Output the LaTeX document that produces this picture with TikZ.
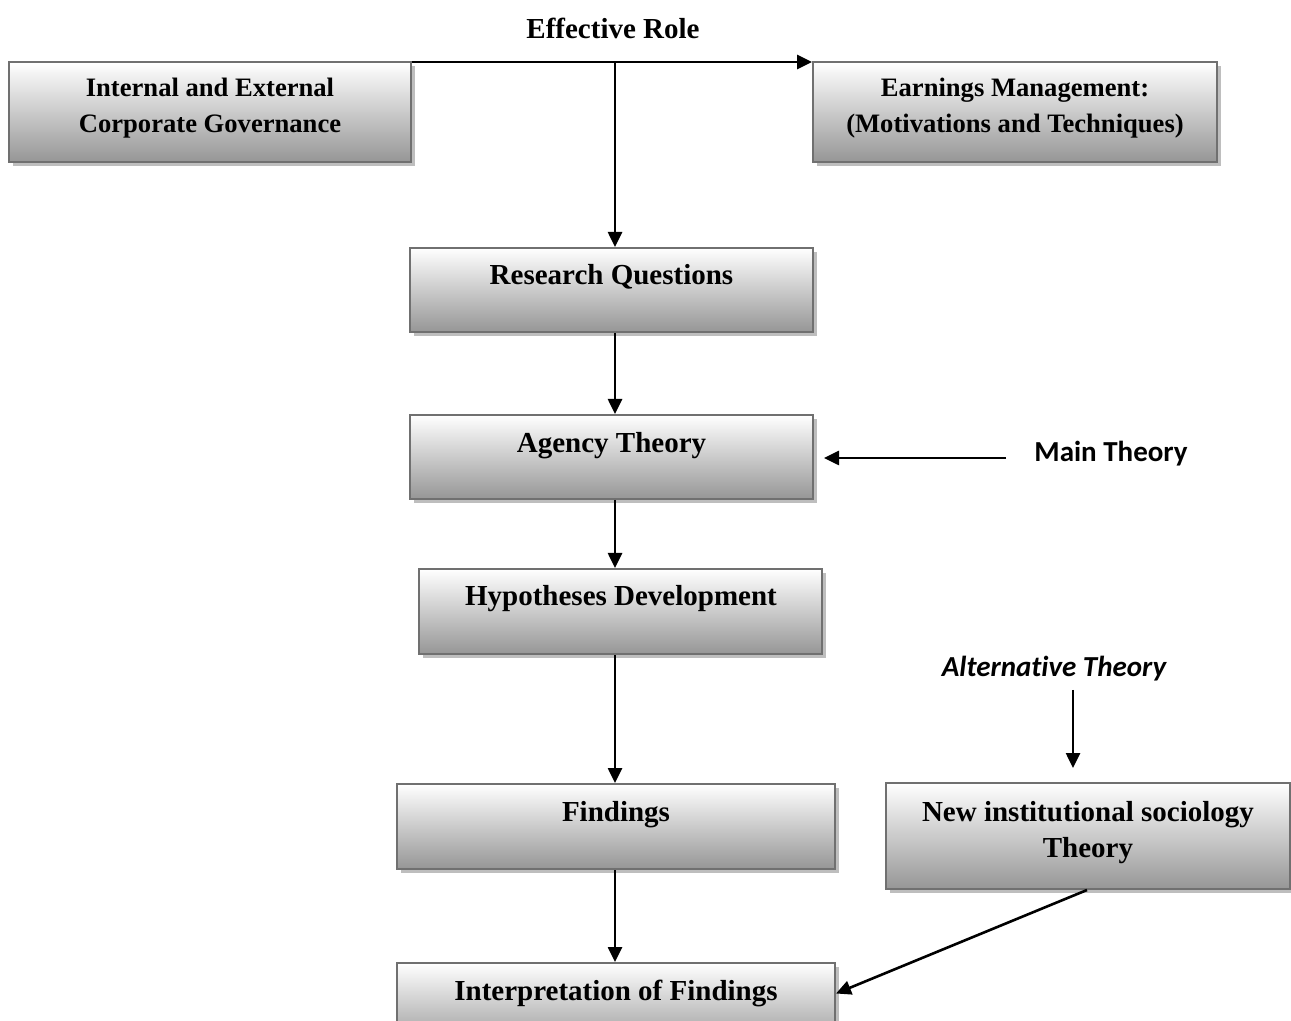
\documentclass[tikz,border=0pt]{standalone}
\usepackage{fontspec}
\setmainfont{Liberation Serif}
\newfontfamily\calib[Ligatures=NoCommon]{Carlito}
\usetikzlibrary{arrows.meta,shadows}
\begin{document}
\begin{tikzpicture}[x=0.5pt,y=-0.5pt,
  boxnode/.style={draw={rgb,255:red,112;green,112;blue,112}, line width=1pt,
    top color=white, bottom color={rgb,255:red,150;green,150;blue,150},
    drop shadow={shadow xshift=2pt, shadow yshift=-2pt, fill={rgb,255:red,190;green,190;blue,190}, opacity=1},
    rectangle, inner sep=0pt},
  boxtext/.style={font=\fontsize{14.5}{18}\selectfont\bfseries, align=center, inner sep=0pt},
  smalltext/.style={font=\fontsize{13.3}{18}\selectfont\bfseries, align=center, inner sep=0pt},
  sidetext/.style={font=\calib\fontsize{14.5}{18}\selectfont\bfseries, inner sep=0pt},
  conn/.style={line width=1.3pt, -{Triangle[length=7.5pt,width=7pt]}}]
\useasboundingbox (0,0) rectangle (1291,1021);
% boxes
\node[boxnode, minimum width=201pt, minimum height=50pt] (A) at (210,112) {};
\node[boxnode, minimum width=202pt, minimum height=50pt] (B) at (1015,112) {};
\node[boxnode, minimum width=201.5pt, minimum height=42pt] (RQ) at (611.5,290) {};
\node[boxnode, minimum width=201.5pt, minimum height=42pt] (AT) at (611.5,457) {};
\node[boxnode, minimum width=201.5pt, minimum height=42.5pt] (HD) at (620.5,611.5) {};
\node[boxnode, minimum width=219pt, minimum height=42.5pt] (F) at (616,826.5) {};
\node[boxnode, minimum width=219pt, minimum height=42.5pt] (I) at (616,1005.5) {};
\node[boxnode, minimum width=202pt, minimum height=53pt] (N) at (1088,836) {};
% box texts
\node[smalltext] (At) at (210,108) {Internal and External\\Corporate Governance};
\node[smalltext] (Bt) at (1015,108) {Earnings Management:\\(Motivations and Techniques)};
\node[boxtext] (RQt) at (611.5,277) {Research Questions};
\node[boxtext] (ATt) at (611.5,446) {Agency Theory};
\node[boxtext] (HDt) at (621,599) {Hypotheses Development};
\node[boxtext] (Ft) at (616,815) {Findings};
\node[boxtext] (It) at (616,993) {Interpretation of Findings};
\node[boxtext] (Nt) at (1088,833) {New institutional sociology\\Theory};
% free labels
\node[boxtext] (ER) at (613,28) {Effective Role};
\node[sidetext, anchor=west] (MT) at (1034,454) {Main Theory};
\node[sidetext, font=\calib\fontsize{14.5}{18}\selectfont\bfseries\itshape] (ALT) at (1054,669) {Alternat\kern0pt ive Theory};
% connectors
\coordinate (j) at (615,63);
\draw[conn] ([yshift=-0.5pt]A.north east) -- ([yshift=-0.5pt]B.north west);
\draw[conn] (j) -- (j |- RQ.north);
\draw[conn] (RQ.south -| j) -- (AT.north -| j);
\draw[conn] (AT.south -| j) -- (HD.north -| j);
\draw[conn] (HD.south -| j) -- (F.north -| j);
\draw[conn] (F.south -| j) -- (I.north -| j);
\draw[conn, shorten >=5pt] ([xshift=-14pt,yshift=-2pt]MT.west) -- ([yshift=-2pt]MT.west -| AT.east);
\draw[conn, shorten <=4pt, shorten >=7pt] (ALT.south -| 1073,0) -- (N.north -| 1073,0);
\draw[conn] ([xshift=-0.5pt]N.south) -- ([yshift=6pt]I.east);
\end{tikzpicture}
\end{document}
